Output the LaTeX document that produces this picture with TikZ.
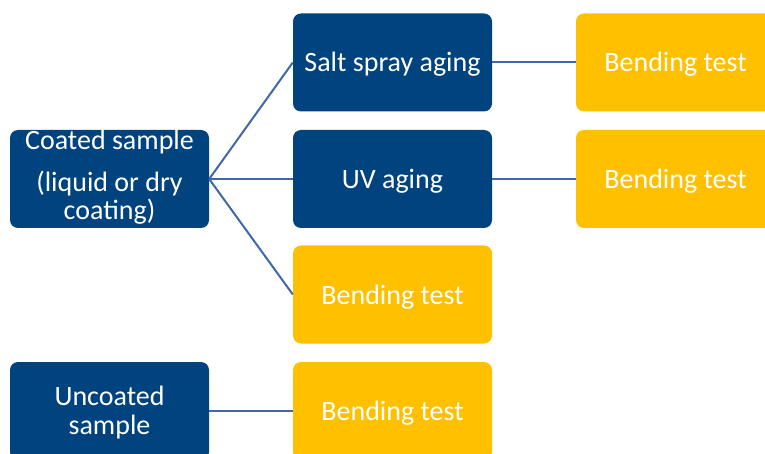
\documentclass[tikz,border=0pt]{standalone}
\usepackage{fontspec}
\setmainfont{Carlito}
\definecolor{navy}{HTML}{00437F}
\definecolor{gold}{HTML}{FFC000}
\definecolor{linkc}{HTML}{4166AE}
\begin{document}
\begin{tikzpicture}[x=1pt,y=-1pt,
  boxbase/.style={rounded corners=8pt, minimum width=199pt, minimum height=98pt, inner sep=0pt, draw=none},
  darkbox/.style={boxbase, fill=navy},
  goldbox/.style={boxbase, fill=gold},
  txt/.style={text=white, font=\fontsize{28}{30}\selectfont, inner sep=0pt, anchor=base},
  link/.style={draw=linkc, line width=2pt}
]
\useasboundingbox (0,0) rectangle (765,454);
\begin{scope}
\clip (0,0) rectangle (765,454);
% boxes
\node[darkbox] (coated) at (109.5,179) {};
\node[darkbox] (salt) at (392.5,62.5) {};
\node[darkbox] (uv) at (392.5,179) {};
\node[goldbox] (bt3) at (392.5,294.5) {};
\node[goldbox] (bt1) at (675.5,62.5) {};
\node[goldbox] (bt2) at (675.5,179) {};
\node[darkbox] (uncoated) at (109.5,411) {};
\node[goldbox] (bt4) at (392.5,411) {};
% connectors
\draw[link] (coated.east) -- (salt.west);
\draw[link] (coated.east) -- (uv.west);
\draw[link] (coated.east) -- (bt3.west);
\draw[link] (salt.east) -- (bt1.west);
\draw[link] (uv.east) -- (bt2.west);
\draw[link] (uncoated.east) -- (bt4.west);
% texts
\node[txt] (coatedt1) at (109.5,149.5) {Coated sample};
\node[txt] (coatedt2) at (109.5,192) {(liquid or dry};
\node[txt] (coatedt3) at (109.5,219.5) {coating)};
\node[txt] (saltt) at (392.5,71.5) {Salt spray aging};
\node[txt] (uvt) at (392.5,188.5) {UV aging};
\node[txt] (bt3t) at (392.5,304) {Bending test};
\node[txt] (bt1t) at (675.5,71.5) {Bending test};
\node[txt] (bt2t) at (675.5,188.5) {Bending test};
\node[txt] (uncoatedt1) at (109.5,405) {Uncoated};
\node[txt] (uncoatedt2) at (109.5,434.5) {sample};
\node[txt] (bt4t) at (392.5,420) {Bending test};
\end{scope}
\end{tikzpicture}
\end{document}
